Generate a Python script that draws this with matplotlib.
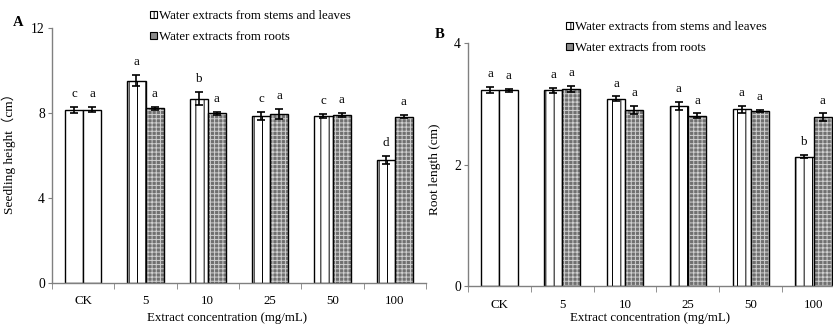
import matplotlib
matplotlib.use("Agg")
import matplotlib.pyplot as plt
import numpy as np
from matplotlib.patches import Patch

plt.rcParams['font.family'] = ['Liberation Serif', 'Noto Sans CJK SC', 'DejaVu Sans']
plt.rcParams['hatch.linewidth'] = 0.7

categories = ["CK", "5", "10", "25", "50", "100"]
series_names = ["Water extracts from stems and leaves", "Water extracts from roots"]

# Panel A: seedling height (cm)
height_stems = [8.15, 9.52, 8.67, 7.87, 7.85, 5.79]
height_stems_err = [0.15, 0.25, 0.30, 0.20, 0.10, 0.20]
height_roots = [8.15, 8.22, 7.98, 7.95, 7.90, 7.83]
height_roots_err = [0.12, 0.08, 0.08, 0.22, 0.10, 0.07]
height_stems_letters = ["c", "a", "b", "c", "c", "d"]
height_roots_letters = ["a", "a", "a", "a", "a", "a"]

# Panel B: root length (cm)
root_stems = [3.22, 3.22, 3.08, 2.96, 2.91, 2.13]
root_stems_err = [0.05, 0.04, 0.04, 0.065, 0.06, 0.03]
root_roots = [3.22, 3.24, 2.90, 2.80, 2.88, 2.78]
root_roots_err = [0.03, 0.05, 0.07, 0.04, 0.02, 0.06]
root_stems_letters = ["a", "a", "a", "a", "a", "b"]
root_roots_letters = ["a", "a", "a", "a", "a", "a"]

ROOT_FACE = '#707070'
ROOT_DOTS = '#d0d0d0'

W, H = 833, 324
fig = plt.figure(figsize=(W / 100, H / 100), dpi=100)

def px(x0, y0, x1, y1):
    return [x0 / W, 1 - y1 / H, (x1 - x0) / W, (y1 - y0) / H]

axA = fig.add_axes(px(52, 28, 426, 283))
axB = fig.add_axes(px(468, 43, 845, 286))

def draw(ax, s, se, r, re, sl, rl, ymax, yticks, ylabel):
    x = np.arange(len(categories))
    w = 0.29
    for i in range(len(categories)):
        hs = None if i == 0 else '||'
        ax.bar(x[i] - w / 2, s[i], w, facecolor='white', edgecolor='black',
               linewidth=1.0, hatch=hs, zorder=2)
        if i == 0:
            ax.bar(x[i] + w / 2, r[i], w, facecolor='white', edgecolor='black',
                   linewidth=1.0, zorder=2)
        else:
            ax.bar(x[i] + w / 2, r[i], w, facecolor=ROOT_FACE, edgecolor=ROOT_DOTS,
                   linewidth=0, hatch='++++', zorder=2)
            ax.bar(x[i] + w / 2, r[i], w, facecolor='none', edgecolor='black',
                   linewidth=1.0, zorder=2.5)
    ax.errorbar(x - w / 2, s, yerr=se, fmt='none', ecolor='black', elinewidth=1.2,
                capsize=3, capthick=1.2, zorder=3)
    ax.errorbar(x + w / 2, r, yerr=re, fmt='none', ecolor='black', elinewidth=1.2,
                capsize=3, capthick=1.2, zorder=3)
    for i in range(len(categories)):
        ax.annotate(sl[i], (x[i] - w / 2, s[i] + se[i]), xytext=(0, 5),
                    textcoords='offset points', ha='center', va='bottom', fontsize=9.3)
        ax.annotate(rl[i], (x[i] + w / 2, r[i] + re[i]), xytext=(0, 5),
                    textcoords='offset points', ha='center', va='bottom', fontsize=9.3)
    ax.set_xlim(-0.5, len(categories) - 0.5)
    ax.set_ylim(0, ymax)
    ax.set_yticks(yticks)
    ax.set_xticks(x)
    ax.set_xticklabels(categories)
    ax.set_xticks(np.arange(len(categories) + 1) - 0.5, minor=True)
    ax.tick_params(axis='x', which='major', length=0, pad=9, labelsize=9.3)
    ax.tick_params(axis='x', which='minor', length=4, color='#808080', direction='out')
    ax.tick_params(axis='y', length=3, color='#808080', pad=2, labelsize=9.8)
    for sp in ['top', 'right']:
        ax.spines[sp].set_visible(False)
    for sp in ['left', 'bottom']:
        ax.spines[sp].set_color('#808080')
        ax.spines[sp].set_linewidth(1.0)
    ax.set_ylabel(ylabel, fontsize=9.6)

draw(axA, height_stems, height_stems_err, height_roots, height_roots_err,
     height_stems_letters, height_roots_letters, 12, [0, 4, 8, 12],
     "Seedling height（cm）")
draw(axB, root_stems, root_stems_err, root_roots, root_roots_err,
     root_stems_letters, root_roots_letters, 4, [0, 2, 4], "Root length (cm)")

axA.yaxis.set_label_coords(-0.095, 0.52)
axB.yaxis.set_label_coords(-0.072, 0.48)

fig.text(227 / W, 1 - 318 / H, "Extract concentration (mg/mL)", ha='center', va='center', fontsize=9.3)
fig.text(650 / W, 1 - 318 / H, "Extract concentration (mg/mL)", ha='center', va='center', fontsize=9.3)

fig.text(18 / W, 1 - 23 / H, "A", ha='center', va='center', fontsize=10.5, fontweight='bold')
fig.text(440 / W, 1 - 34 / H, "B", ha='center', va='center', fontsize=10.5, fontweight='bold')

def legend_items():
    return [Patch(facecolor='white', edgecolor='black', hatch='||', linewidth=0.8),
            Patch(facecolor='#8a8a8a', edgecolor='black', linewidth=0.8)]

for (lx, ly) in [(150, 10), (566, 21)]:
    fig.legend(legend_items(), series_names, loc='upper left',
               bbox_to_anchor=(lx / W, 1 - ly / H), frameon=False, fontsize=9.3,
               handlelength=0.55, handleheight=0.55, handletextpad=0.15,
               labelspacing=0.7, borderpad=0, borderaxespad=0)

fig.savefig("out.png", dpi=100)
